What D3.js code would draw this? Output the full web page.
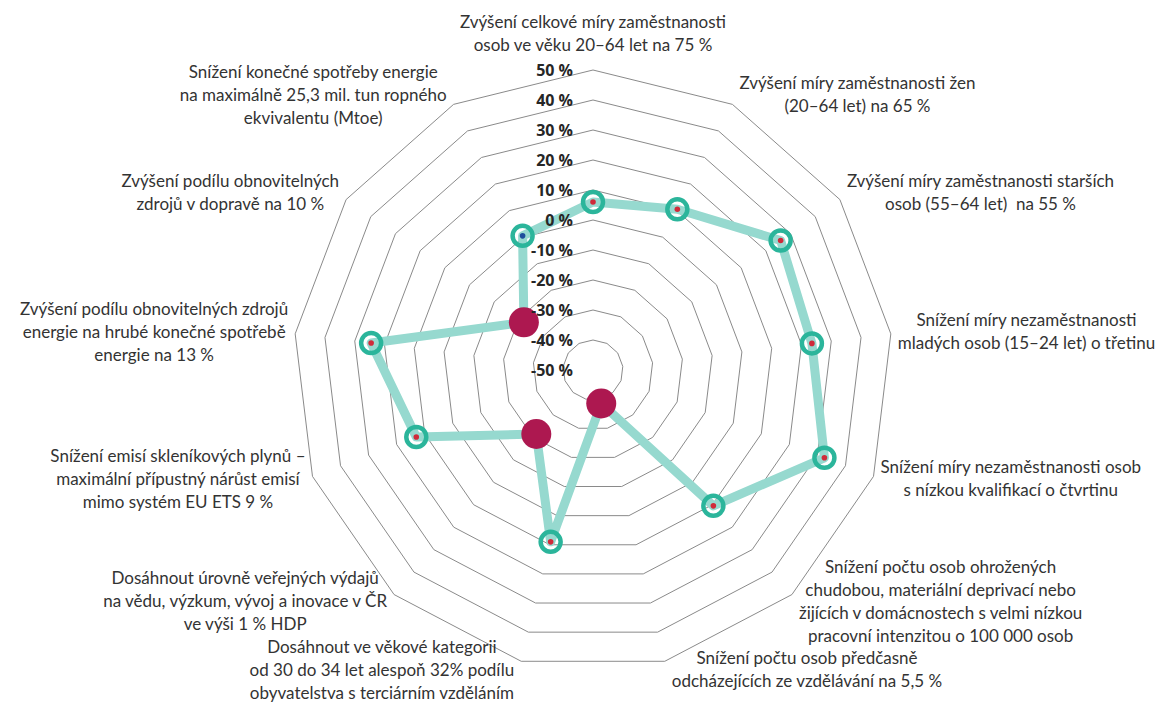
<!DOCTYPE html>
<html>
  <head>
    <meta charset="utf-8">
    <script src="https://d3js.org/d3.v7.min.js"></script>
    <style>
      body { margin: 0; background: #fff; }
      .cat { font-family: Lato, "Open Sans", sans-serif; font-size: 17px; fill: #333; white-space: pre; }
      .tick { font-family: "Open Sans", Lato, sans-serif; font-size: 16px; font-weight: bold; fill: #262626; }
    </style>
  </head>
  <body>
    <svg width="1165" height="702" id="chart"></svg>
    <script>
      // axis labels, clockwise from the top
      const categories = [
        ["Zvýšení celkové míry zaměstnanosti", "osob ve věku 20–64 let na 75 %"],
        ["Zvýšení míry zaměstnanosti žen", "(20–64 let) na 65 %"],
        ["Zvýšení míry zaměstnanosti starších", "osob (55–64 let)  na 55 %"],
        ["Snížení míry nezaměstnanosti", "mladých osob (15–24 let) o třetinu"],
        ["Snížení míry nezaměstnanosti osob", "s nízkou kvalifikací o čtvrtinu"],
        ["Snížení počtu osob ohrožených", "chudobou, materiální deprivací nebo", "žijících v domácnostech s velmi nízkou", "pracovní intenzitou o 100 000 osob"],
        ["Snížení počtu osob předčasně", "odcházejících ze vzdělávání na 5,5 %"],
        ["Dosáhnout ve věkové kategorii", "od 30 do 34 let alespoň 32% podílu", "obyvatelstva s terciárním vzděláním"],
        ["Dosáhnout úrovně veřejných výdajů", "na vědu, výzkum, vývoj a inovace v ČR", "ve výši 1 % HDP"],
        ["Snížení emisí skleníkových plynů –", "maximální přípustný nárůst emisí", "mimo systém EU ETS 9 %"],
        ["Zvýšení podílu obnovitelných zdrojů", "energie na hrubé konečné spotřebě", "energie na 13 %"],
        ["Zvýšení podílu obnovitelných", "zdrojů v dopravě na 10 %"],
        ["Snížení konečné spotřeby energie", "na maximálně 25,3 mil. tun ropného", "ekvivalentu (Mtoe)"]
      ];
      const values = [6, 10.5, 26, 23.5, 32.5, 10.5, -38.5, 9, -21.5, 13, 24.5, -22, 0.5];
      // marker kind per point: "red" / "blue" = ring with a dot, "miss" = big crimson dot
      const markers = ["red", "red", "red", "red", "red", "red", "miss", "red", "miss", "red", "red", "miss", "blue"];
      const ticks = [-50, -40, -30, -20, -10, 0, 10, 20, 30, 40, 50];

      const svg = d3.select("#chart");
      const cx = 593, cy = 370, R = 300;
      const n = categories.length;

      const r = d3.scaleLinear().domain([-50, 50]).range([0, R]);
      const angle = i => i * 2 * Math.PI / n;

      const g = svg.append("g").attr("transform", `translate(${cx},${cy})`);

      // grid rings
      const ring = d3.lineRadial().angle((d, i) => angle(i)).radius(d => r(d)).curve(d3.curveLinearClosed);
      g.selectAll("path.grid").data(ticks.filter(t => t > -50))
        .join("path")
        .attr("class", "grid")
        .attr("d", t => ring(d3.range(n).map(() => t)))
        .attr("fill", "none")
        .attr("stroke", "#8a8a8a")
        .attr("stroke-width", 1);

      // data line
      g.append("path")
        .attr("d", ring(values))
        .attr("fill", "none")
        .attr("stroke", "#96d9cf")
        .attr("stroke-width", 9)
        .attr("stroke-linejoin", "round");

      const px = (v, i) => r(v) * Math.sin(angle(i));
      const py = (v, i) => -r(v) * Math.cos(angle(i));
      const pts = values.map((v, i) => ({v: v, i: i, m: markers[i]}));

      g.selectAll("circle.ring").data(pts.filter(d => d.m != "miss"))
        .join("circle")
        .attr("class", "ring")
        .attr("cx", d => px(d.v, d.i))
        .attr("cy", d => py(d.v, d.i))
        .attr("r", 10)
        .attr("fill", "none")
        .attr("stroke", "#2bb59b")
        .attr("stroke-width", 4.5);
      g.selectAll("circle.dot").data(pts.filter(d => d.m != "miss"))
        .join("circle")
        .attr("class", "dot")
        .attr("cx", d => px(d.v, d.i))
        .attr("cy", d => py(d.v, d.i))
        .attr("r", 2.8)
        .attr("fill", d => d.m == "blue" ? "#1f4e9c" : "#d02a3a");
      g.selectAll("circle.miss").data(pts.filter(d => d.m == "miss"))
        .join("circle")
        .attr("class", "miss")
        .attr("cx", d => px(d.v, d.i))
        .attr("cy", d => py(d.v, d.i))
        .attr("r", 15)
        .attr("fill", "#ad1850");

      // tick labels on the top axis
      g.selectAll("text.tick").data(ticks)
        .join("text")
        .attr("class", "tick")
        .attr("x", -20)
        .attr("y", t => -r(t))
        .attr("dy", "0.36em")
        .attr("text-anchor", "end")
        .text(t => t + " %");

      // category labels
      const lh = 23;
      categories.forEach((lines, i) => {
        const a = angle(i);
        const s = Math.sin(a), c = Math.cos(a);
        const vx = R * s, vy = -R * c;
        const t = g.append("text").attr("class", "cat").attr("text-anchor", "middle");
        lines.forEach((l, k) => {
          t.append("tspan").attr("x", 0).attr("dy", k == 0 ? 0 : lh).text(l);
        });
        const w = d3.max(t.selectAll("tspan").nodes(), nd => nd.getComputedTextLength());
        const h = lines.length * lh;
        let mx, my;
        if (Math.abs(s) < 0.1) {
          mx = vx;
          my = vy - 13 - h / 2;
        } else {
          mx = s > 0 ? vx + 7 + w / 2 : vx - 7 - w / 2;
          my = vy - c * 10;
        }
        // first baseline so that the block is centred on my
        const y0 = my - h / 2 + lh / 2 + 5;
        t.attr("transform", `translate(${mx},${y0})`);
      });
    </script>
  </body>
</html>
